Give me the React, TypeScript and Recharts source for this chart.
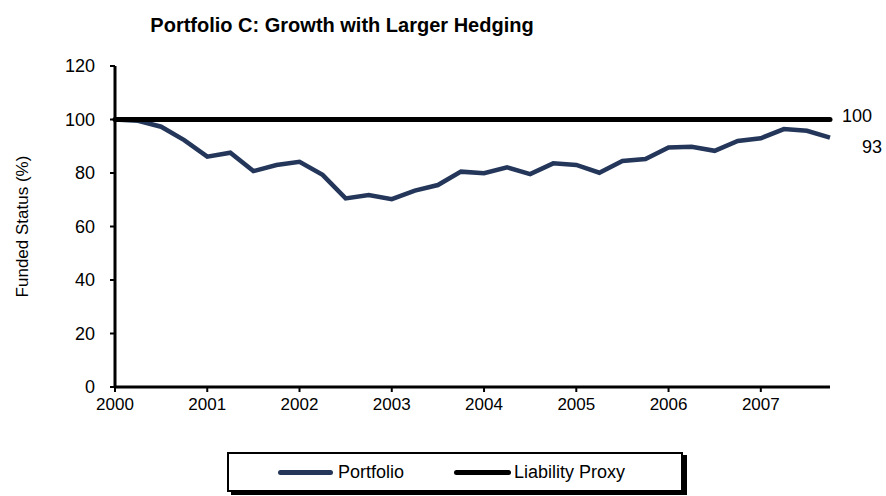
import React from 'react';
import { LineChart, Line, XAxis, YAxis, Legend } from 'recharts';

// quarterly observations, 2000 Q1 .. 2007 Q4
const quarters = [
  '2000 Q1', '2000 Q2', '2000 Q3', '2000 Q4',
  '2001 Q1', '2001 Q2', '2001 Q3', '2001 Q4',
  '2002 Q1', '2002 Q2', '2002 Q3', '2002 Q4',
  '2003 Q1', '2003 Q2', '2003 Q3', '2003 Q4',
  '2004 Q1', '2004 Q2', '2004 Q3', '2004 Q4',
  '2005 Q1', '2005 Q2', '2005 Q3', '2005 Q4',
  '2006 Q1', '2006 Q2', '2006 Q3', '2006 Q4',
  '2007 Q1', '2007 Q2', '2007 Q3', '2007 Q4',
];

const portfolio = [
  100, 99.5, 97.3, 92.3, 86.1, 87.6, 80.7, 83.0,
  84.2, 79.3, 70.5, 71.8, 70.2, 73.4, 75.5, 80.5,
  79.9, 82.1, 79.6, 83.6, 83.0, 80.1, 84.5, 85.2,
  89.5, 89.8, 88.3, 92.0, 93.0, 96.4, 95.8, 93.2,
];

const liabilityProxy = [
  100, 100, 100, 100, 100, 100, 100, 100,
  100, 100, 100, 100, 100, 100, 100, 100,
  100, 100, 100, 100, 100, 100, 100, 100,
  100, 100, 100, 100, 100, 100, 100, 100,
];

const yTicks = [0, 20, 40, 60, 80, 100, 120];

const data = quarters.map((q, i) => ({
  quarter: q,
  portfolio: portfolio[i],
  liability: liabilityProxy[i],
}));

const FONT = '"Liberation Sans", Arial, sans-serif';
const NAVY = '#24375a';

const endLabel = (dx: number, dy: number) => (props: any) => {
  const { x, y, index, value } = props;
  if (index !== data.length - 1) return null;
  return (
    <text x={x + dx} y={y + dy} fontSize={18} fill="#000" textAnchor="end" dominantBaseline="central" fontFamily={FONT}>
      {Math.round(value)}
    </text>
  );
};

const LegendBox = () => (
  <div
    style={{
      width: 456,
      height: 40,
      boxSizing: 'border-box',
      border: '2px solid #000',
      boxShadow: '4px 3px 0 #000',
      background: '#fff',
      display: 'flex',
      alignItems: 'center',
      paddingLeft: 49,
      fontFamily: FONT,
      fontSize: 18,
      color: '#000',
    }}
  >
    <span style={{ display: 'inline-block', width: 55, height: 5, borderRadius: 3, background: NAVY, marginRight: 5 }} />
    <span>Portfolio</span>
    <span style={{ display: 'inline-block', width: 57, height: 5, borderRadius: 3, background: '#000', marginLeft: 50, marginRight: 3 }} />
    <span>Liability Proxy</span>
  </div>
);

export default function App() {
  return (
    <div style={{ position: 'absolute', left: 0, top: 0, width: 886, height: 496, background: '#fff' }}>
      <div
        style={{
          position: 'absolute',
          left: 0,
          width: 684,
          top: 14,
          textAlign: 'center',
          fontFamily: FONT,
          fontWeight: 'bold',
          fontSize: 20,
          color: '#000',
        }}
      >
        Portfolio C: Growth with Larger Hedging
      </div>
      <LineChart
        width={886}
        height={496}
        data={data}
        margin={{ top: 66, right: 56, bottom: 69, left: 55 }}
        style={{ fontFamily: FONT }}
      >
        <XAxis
          dataKey="quarter"
          interval={3}
          tickFormatter={(q: string) => q.slice(0, 4)}
          axisLine={{ stroke: '#000', strokeWidth: 3 }}
          tickLine={{ stroke: '#000', strokeWidth: 2 }}
          tickSize={5}
          tickMargin={6}
          tick={{ fill: '#000', fontSize: 17 }}
          height={40}
        />
        <YAxis
          domain={[0, 120]}
          ticks={yTicks}
          width={60}
          axisLine={{ stroke: '#000', strokeWidth: 3 }}
          tickLine={{ stroke: '#000', strokeWidth: 2 }}
          tickSize={5}
          tickMargin={15}
          tick={{ fill: '#000', fontSize: 18 }}
          label={{ value: 'Funded Status (%)', angle: -90, position: 'center', dx: -63, fill: '#000', fontSize: 17 }}
        />
        <Legend
          layout="horizontal"
          verticalAlign="middle"
          align="center"
          wrapperStyle={{ left: 227, top: 452, width: 460 }}
          content={() => <LegendBox />}
        />
        <Line
          type="linear"
          dataKey="portfolio"
          name="Portfolio"
          stroke={NAVY}
          strokeWidth={4.5}
          dot={false}
          isAnimationActive={false}
          label={endLabel(52, 9)}
        />
        <Line
          type="linear"
          dataKey="liability"
          name="Liability Proxy"
          stroke="#000"
          strokeWidth={5}
          strokeLinecap="round"
          dot={false}
          isAnimationActive={false}
          label={endLabel(42, -4)}
        />
      </LineChart>
    </div>
  );
}
